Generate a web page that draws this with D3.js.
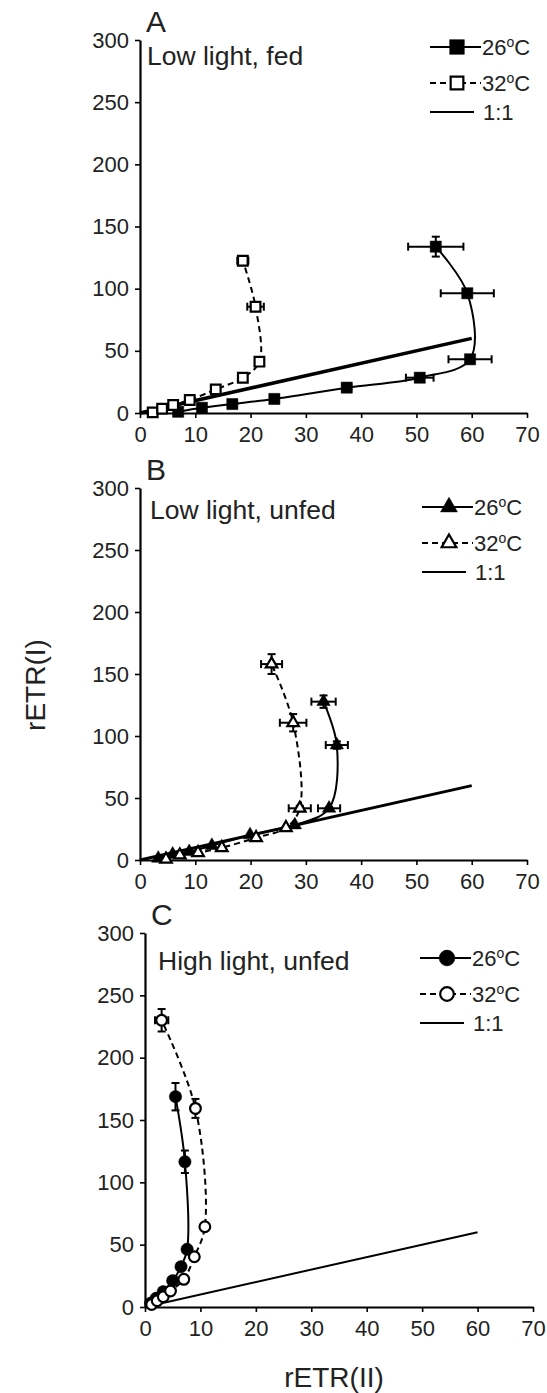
<!DOCTYPE html>
<html lang="en">
<head>
    <meta charset="UTF-8">
    <script src="https://cdn.jsdelivr.net/npm/d3@7"></script>
    <title>rETR(I) vs rETR(II)</title>
    <style>
        * {
            margin: 0;
            padding: 0;
            box-sizing: border-box;
        }

        body {
            background: white;
        }

        svg text {
            font-family: "Liberation Sans", Arial, sans-serif;
            fill: #222;
        }
    </style>
</head>
<body>
    <svg width="547" height="1393"></svg>
    <script>
        let xTicks = [0, 10, 20, 30, 40, 50, 60, 70]
        let yTicks = [0, 50, 100, 150, 200, 250, 300]
        let panelLetters = ['A', 'B', 'C']
        let panelTitles = ['Low light, fed', 'Low light, unfed', 'High light, unfed']
        let seriesNames = ['26', '32']
        let oneToOne = [0, 60]

        // A: low light, fed (squares)
        let a26x = [6.9, 11.2, 16.7, 24.3, 37.4, 50.6, 59.7, 59.2, 53.5]
        let a26y = [1.0, 4.2, 7.2, 11.3, 20.4, 28.4, 43.2, 96.3, 133.8]
        let a26xe = [0, 0.5, 0, 0, 0.8, 2.5, 3.9, 4.8, 5.0]
        let a26ye = [0, 0, 0, 0, 0, 1, 1, 2, 8]
        let a32x = [2.3, 4.0, 6.0, 9.0, 13.7, 18.6, 21.6, 20.9, 18.6]
        let a32y = [0.5, 3.5, 6.4, 10.5, 19.0, 28.4, 41.3, 85.5, 122.5]
        let a32xe = [0, 0, 0, 0, 0, 0, 0.5, 1.5, 1.0]
        let a32ye = [0, 0, 0, 0, 0, 0, 0, 1, 2]

        // B: low light, unfed (triangles)
        let b26x = [3.3, 5.9, 8.9, 13.0, 19.9, 28.0, 34.2, 35.6, 33.2]
        let b26y = [1.3, 4.6, 6.7, 11.6, 20.2, 28.2, 41.7, 92.7, 127.7]
        let b26xe = [0, 0, 0, 0, 0, 0, 2.0, 2.0, 2.2]
        let b26ye = [0, 0, 0, 0, 0, 0, 1, 3, 5]
        let b32x = [4.7, 7.2, 10.5, 14.8, 21.0, 26.4, 28.9, 27.7, 23.8]
        let b32y = [0.6, 4.0, 5.9, 9.9, 18.0, 26.0, 41.7, 110.7, 158.0]
        let b32xe = [0, 0, 0, 0, 0, 0, 2.0, 2.4, 1.9]
        let b32ye = [0, 0, 0, 0, 0, 0, 2, 7, 8]

        // C: high light, unfed (circles)
        let c26x = [1.0, 2.0, 3.3, 5.0, 6.5, 7.6, 7.2, 5.5]
        let c26y = [3.0, 7.0, 12.3, 21.1, 32.3, 46.3, 116.5, 168.7]
        let c26xe = [0, 0, 0, 0, 0, 0, 0.3, 0.5]
        let c26ye = [0, 0, 0, 0, 0, 1, 9, 11]
        let c32x = [1.2, 2.2, 3.3, 4.6, 7.0, 8.9, 10.8, 9.1, 3.0]
        let c32y = [2.0, 5.0, 8.3, 12.8, 22.2, 40.3, 64.4, 159.3, 230.0]
        let c32xe = [0, 0, 0, 0, 0, 0, 0, 0.5, 1.2]
        let c32ye = [0, 0, 0, 0, 0, 0, 2, 7.6, 9]

        let zip = (xs, ys, xe, ye) => xs.map((v, i) => ({ x: v, y: ys[i], xe: xe[i], ye: ye[i] }))

        let panels = [
            {
                x0: 140, x1: 527, yTop: 40, yBot: 413, lx: 430, ly: 47, oneW: 3.5,
                shape: d3.symbolSquare, size: 125, legSize: 215,
                s26: zip(a26x, a26y, a26xe, a26ye), s32: zip(a32x, a32y, a32xe, a32ye)
            },
            {
                x0: 140, x1: 527, yTop: 488, yBot: 860, lx: 422, ly: 507, oneW: 3,
                shape: d3.symbolTriangle, size: 78, legSize: 125,
                s26: zip(b26x, b26y, b26xe, b26ye), s32: zip(b32x, b32y, b32xe, b32ye)
            },
            {
                x0: 145, x1: 533, yTop: 933, yBot: 1307, lx: 420, ly: 958, oneW: 2,
                shape: d3.symbolCircle, size: 120, legSize: 195,
                s26: zip(c26x, c26y, c26xe, c26ye), s32: zip(c32x, c32y, c32xe, c32ye)
            }
        ]

        let svg = d3.select('svg')

        svg.append('rect').attr('width', 547).attr('height', 1393).attr('fill', 'white')

        panels.forEach((p, k) => {
            let g = svg.append('g')

            let xScale = d3.scaleLinear().domain([0, 70]).range([p.x0, p.x1])
            let yScale = d3.scaleLinear().domain([0, 300]).range([p.yBot, p.yTop])

            let xAxis = g.append('g')
                .attr('transform', `translate(0, ${p.yBot})`)
                .call(d3.axisBottom(xScale).tickValues(xTicks).tickSize(5).tickSizeOuter(0).tickPadding(8))
            let yAxis = g.append('g')
                .attr('transform', `translate(${p.x0}, 0)`)
                .call(d3.axisLeft(yScale).tickValues(yTicks).tickSize(5).tickSizeOuter(0).tickPadding(6))

            ;[xAxis, yAxis].forEach(a => {
                a.attr('font-size', 22).attr('font-family', null)
                a.select('.domain').attr('stroke-width', 2.2).attr('stroke', '#000')
                a.selectAll('.tick line').attr('stroke-width', 1.6).attr('stroke', '#000')
                a.selectAll('.tick text').attr('fill', '#222')
            })

            // 1:1 line
            g.append('line')
                .attr('x1', xScale(oneToOne[0])).attr('y1', yScale(oneToOne[0]))
                .attr('x2', xScale(oneToOne[1])).attr('y2', yScale(oneToOne[1]))
                .attr('stroke', '#000').attr('stroke-width', p.oneW)

            let line = d3.line()
                .x(d => xScale(d.x))
                .y(d => yScale(d.y))
                .curve(d3.curveCatmullRom.alpha(0.5))

            let series = [
                { data: p.s26, dash: null, fill: '#000' },
                { data: p.s32, dash: '6,4', fill: '#fff' }
            ]

            series.forEach(s => {
                g.append('path')
                    .attr('d', line(s.data))
                    .attr('fill', 'none')
                    .attr('stroke', '#000')
                    .attr('stroke-width', 2)
                    .attr('stroke-dasharray', s.dash)
            })

            series.forEach(s => {
                let eb = g.append('g').attr('stroke', '#000').attr('stroke-width', 2)
                s.data.filter(d => d.xe > 0).forEach(d => {
                    let xa = xScale(d.x - d.xe), xb = xScale(d.x + d.xe), yy = yScale(d.y)
                    eb.append('line').attr('x1', xa).attr('x2', xb).attr('y1', yy).attr('y2', yy)
                    eb.append('line').attr('x1', xa).attr('x2', xa).attr('y1', yy - 4).attr('y2', yy + 4)
                    eb.append('line').attr('x1', xb).attr('x2', xb).attr('y1', yy - 4).attr('y2', yy + 4)
                })
                s.data.filter(d => d.ye > 0).forEach(d => {
                    let ya = yScale(d.y - d.ye), yb = yScale(d.y + d.ye), xx = xScale(d.x)
                    eb.append('line').attr('x1', xx).attr('x2', xx).attr('y1', ya).attr('y2', yb)
                    eb.append('line').attr('x1', xx - 4).attr('x2', xx + 4).attr('y1', ya).attr('y2', ya)
                    eb.append('line').attr('x1', xx - 4).attr('x2', xx + 4).attr('y1', yb).attr('y2', yb)
                })

                g.selectAll(null)
                    .data(s.data)
                    .join('path')
                    .attr('d', d3.symbol().type(p.shape).size(s.fill === '#000' ? p.size : p.size * 0.75))
                    .attr('transform', d => `translate(${xScale(d.x)}, ${yScale(d.y)})`)
                    .attr('fill', s.fill)
                    .attr('stroke', '#000')
                    .attr('stroke-width', s.fill === '#000' ? 0.5 : 2.2)
            })

            // panel letter and title
            g.append('text')
                .attr('x', p.x0 + 6).attr('y', p.yTop - 8)
                .attr('font-size', 30)
                .text(panelLetters[k])
            g.append('text')
                .attr('x', p.x0 + 7 + k * 3).attr('y', p.yTop + 25 + k * 6)
                .attr('font-size', 26.5)
                .text(panelTitles[k])

            // legend
            let leg = g.append('g').attr('transform', `translate(${p.lx}, ${p.ly})`)
            series.forEach((s, i) => {
                let ry = i * 36
                leg.append('line')
                    .attr('x1', 0).attr('x2', 51).attr('y1', ry).attr('y2', ry)
                    .attr('stroke', '#000').attr('stroke-width', 2)
                    .attr('stroke-dasharray', s.dash)
                leg.append('path')
                    .attr('d', d3.symbol().type(p.shape).size(s.fill === '#000' ? p.legSize : p.legSize * 0.75)())
                    .attr('transform', `translate(27, ${ry})`)
                    .attr('fill', s.fill)
                    .attr('stroke', '#000')
                    .attr('stroke-width', s.fill === '#000' ? 0.5 : 2.2)
                let t = leg.append('text')
                    .attr('x', 52).attr('y', ry + 8)
                    .attr('font-size', 22)
                t.append('tspan').text(seriesNames[i])
                t.append('tspan').attr('dy', -8).attr('font-size', 14).text('o')
                t.append('tspan').attr('dy', 8).text('C')
            })
            leg.append('line')
                .attr('x1', 0).attr('x2', 44).attr('y1', 65).attr('y2', 65)
                .attr('stroke', '#000').attr('stroke-width', 2)
            leg.append('text')
                .attr('x', 53).attr('y', 65 + 8)
                .attr('font-size', 22)
                .text('1:1')
        })

        // axis titles
        svg.append('text')
            .attr('transform', 'translate(45, 685) rotate(-90)')
            .attr('text-anchor', 'middle')
            .attr('font-size', 28)
            .text('rETR(I)')

        svg.append('text')
            .attr('x', 334).attr('y', 1387)
            .attr('text-anchor', 'middle')
            .attr('font-size', 28)
            .text('rETR(II)')
    </script>
</body>
</html>
